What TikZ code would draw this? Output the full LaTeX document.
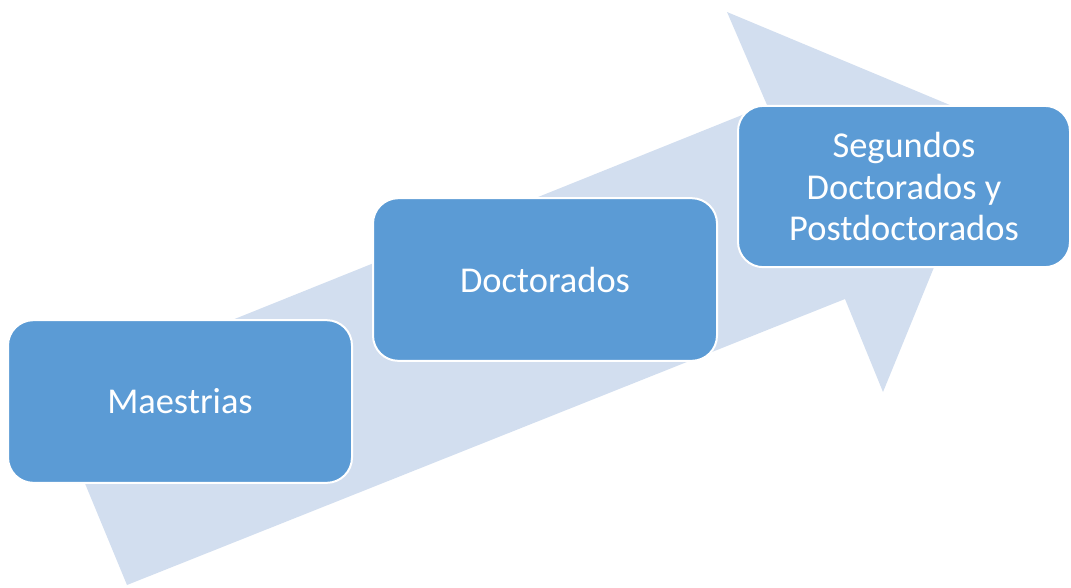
\documentclass[tikz,border=0pt]{standalone}
\usepackage{fontspec}
\setmainfont{Carlito}
\definecolor{boxblue}{HTML}{5B9BD5}
\definecolor{arrowblue}{HTML}{D2DEEF}

\begin{document}
\begin{tikzpicture}[x=0.75pt, y=-0.75pt,
    stage/.style={draw=white, line width=1.5pt, fill=boxblue,
      rounded corners=19pt, minimum width=258pt, minimum height=122pt,
      text=white, align=center, font=\fontsize{27.3}{30.8}\selectfont}]
  \useasboundingbox (0,0) rectangle (1071,587);
  % big arrow behind the stages
  \fill[arrowblue] (48,394) -- (767,105) -- (727,12) -- (993,123)
    -- (883,392) -- (845,299) -- (127,585) -- cycle;
  % stages
  \node[stage] (maestrias) at (180,401.5) {Maestrias};
  \node[stage] (doctorados) at (545,279.5) {Doctorados};
  \node[stage, minimum width=249pt, minimum height=121pt] (segundos) at (904,186.5)
    {Segundos\\Doctorados y\\Postdoctorados};
\end{tikzpicture}
\end{document}
